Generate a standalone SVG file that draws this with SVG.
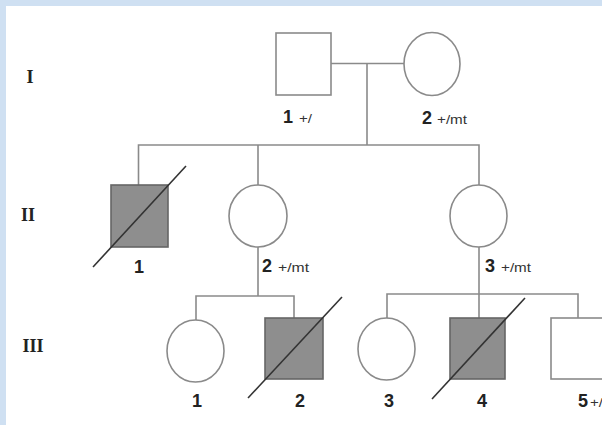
<svg xmlns="http://www.w3.org/2000/svg" width="602" height="425" viewBox="0 0 602 425">
<style>
.ln{fill:none;stroke:#8a8a8a;stroke-width:1.6}
.open{fill:#fff;stroke:#8a8a8a;stroke-width:1.6}
.aff{fill:#8e8e8e;stroke:#666;stroke-width:1.6}
.dec{stroke:#333;stroke-width:1.6}
.num{font-family:"Liberation Sans",Arial,sans-serif;font-weight:bold;font-size:18px;fill:#222}
.sm{font-family:"Liberation Sans",Arial,sans-serif;font-size:12px;fill:#333}
.gen{font-family:"Liberation Serif","Times New Roman",serif;font-weight:bold;font-size:18px;fill:#222}
</style>
<rect x="0" y="0" width="602" height="425" fill="#cfe0f2"/>
<rect x="6" y="6" width="596" height="419" fill="#fff"/>
<g id="generations">
<text class="gen" x="30" y="83" text-anchor="middle">I</text>
<text class="gen" x="28" y="221" text-anchor="middle">II</text>
<text class="gen" x="33" y="352" text-anchor="middle">III</text>
</g>
<g id="connectors">
<path class="ln" d="M331 63.5H404"/>
<path class="ln" d="M367 63.5V145"/>
<path class="ln" d="M138.5 185V145H479V185"/>
<path class="ln" d="M258 145V185"/>
<path class="ln" d="M258 247V296"/>
<path class="ln" d="M196 320V296H294V318"/>
<path class="ln" d="M479 247V294"/>
<path class="ln" d="M387 318V294H578V318"/>
<path class="ln" d="M479 294V318"/>
</g>
<g id="I-1">
<rect class="open" x="276" y="33" width="55" height="62"/>
<text class="num" x="283" y="123">1</text>
<text class="sm" x="299" y="123" textLength="13" lengthAdjust="spacingAndGlyphs">+/</text>
</g>
<g id="I-2">
<ellipse class="open" cx="432" cy="64" rx="28" ry="31.5"/>
<text class="num" x="422" y="124">2</text>
<text class="sm" x="437" y="124" textLength="30" lengthAdjust="spacingAndGlyphs">+/mt</text>
</g>
<g id="II-1">
<rect class="aff" x="111" y="185" width="57" height="62"/>
<line class="dec" x1="93" y1="267" x2="186" y2="166"/>
<text class="num" x="139" y="273" text-anchor="middle">1</text>
</g>
<g id="II-2">
<ellipse class="open" cx="258" cy="216" rx="29" ry="31"/>
<text class="num" x="262" y="272">2</text>
<text class="sm" x="278" y="272" textLength="31" lengthAdjust="spacingAndGlyphs">+/mt</text>
</g>
<g id="II-3">
<ellipse class="open" cx="478.5" cy="216" rx="28.5" ry="31"/>
<text class="num" x="485" y="272">3</text>
<text class="sm" x="501" y="272" textLength="30" lengthAdjust="spacingAndGlyphs">+/mt</text>
</g>
<g id="III-1">
<ellipse class="open" cx="195.5" cy="351" rx="28.5" ry="31"/>
<text class="num" x="197" y="407" text-anchor="middle">1</text>
</g>
<g id="III-2">
<rect class="aff" x="265" y="318" width="58" height="61"/>
<line class="dec" x1="248" y1="398" x2="342" y2="297"/>
<text class="num" x="300" y="407" text-anchor="middle">2</text>
</g>
<g id="III-3">
<ellipse class="open" cx="386.5" cy="349" rx="28.5" ry="31"/>
<text class="num" x="389" y="407" text-anchor="middle">3</text>
</g>
<g id="III-4">
<rect class="aff" x="450" y="318" width="55" height="61"/>
<line class="dec" x1="432" y1="399" x2="525" y2="298"/>
<text class="num" x="482" y="407" text-anchor="middle">4</text>
</g>
<g id="III-5">
<rect class="open" x="551" y="318" width="56" height="61"/>
<text class="num" x="578" y="407">5</text>
<text class="sm" x="590" y="407" textLength="13" lengthAdjust="spacingAndGlyphs">+/</text>
</g>
</svg>
